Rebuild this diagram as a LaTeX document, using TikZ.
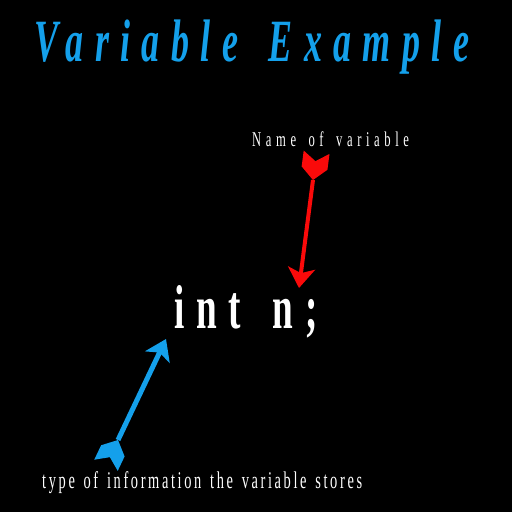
\documentclass[tikz,border=0pt]{standalone}
\usepackage{fontspec}
\setmainfont{Liberation Serif}
\newfontfamily\titleFont[FakeStretch=0.6,LetterSpace=19,WordSpace=1.7]{Liberation Serif}
\newfontfamily\labelFont[FakeStretch=0.6,LetterSpace=22,WordSpace=1.6]{Liberation Serif}
\newfontfamily\codeFont[FakeStretch=0.6,LetterSpace=19,WordSpace=1.5]{Liberation Serif}
\newfontfamily\noteFont[FakeStretch=0.6,LetterSpace=11,WordSpace=1.4]{Liberation Serif}
\usetikzlibrary{arrows.meta}
\definecolor{skyBlue}{RGB}{20,160,235}
\definecolor{pureRed}{RGB}{250,10,10}
\tikzset{
	%Texts
	heading/.style={
		anchor=base west,
		inner sep=0pt,
		text=skyBlue,
		font=\titleFont\bfseries\itshape\fontsize{60}{64}\selectfont,
	},
	caption/.style={
		anchor=base west,
		inner sep=0pt,
		text=white,
	},
	%Arrows
	shaft/.style={
		line width=#1,
		-{Stealth[length=20pt,width=27pt,inset=5pt]},
	},
	fletch/.pic={
		\fill (0,0) -- (-12,13) -- (-28,13) -- (-19,0) -- (-28,-13) -- (-12,-13) -- cycle;
	},
}

\begin{document}
\begin{tikzpicture}[x=1pt, y=-1pt]
	\fill[black] (0,0) rectangle (512,512);
	\useasboundingbox (0,0) rectangle (512,512);

	\node(title) at (34,61) [heading] {Variable Example};
	\node(varName) at (252,146) [caption, font=\labelFont\fontsize{21}{24}\selectfont] {Name of variable};
	\node(decl) at (174,328) [caption, font=\codeFont\bfseries\fontsize{62}{66}\selectfont] {int n;};
	\node(typeInfo) at (42,488) [caption, font=\noteFont\fontsize{24}{28}\selectfont] {type of information the variable stores};

	% red arrow : name
	\coordinate (nameTail) at (313,180);
	\coordinate (nameTip) at (299,288);
	\draw[pureRed, shaft=4pt] (nameTail) -- (nameTip);
	\pic[pureRed, rotate=262.6] at (nameTail) {fletch};

	% blue arrow : type
	\coordinate (typeTail) at (118,440);
	\coordinate (typeTip) at (166,339);
	\draw[skyBlue, shaft=5pt] (typeTail) -- (typeTip);
	\pic[skyBlue, rotate=64.6] at (typeTail) {fletch};
\end{tikzpicture}
\end{document}
